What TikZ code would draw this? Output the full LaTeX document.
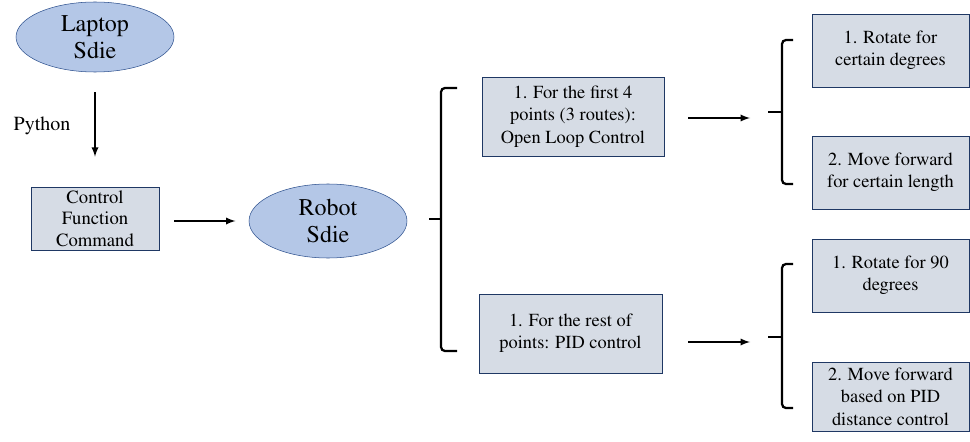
\documentclass[tikz,border=0pt]{standalone}
\usepackage[T1]{fontenc}
\usepackage{mathptmx}
\usetikzlibrary{shapes.geometric}
\usetikzlibrary{arrows}
\definecolor{side-fill}{HTML}{B4C7E7}
\definecolor{side-line}{HTML}{2F528F}
\definecolor{step-fill}{HTML}{D6DCE5}
\definecolor{step-line}{HTML}{1F3864}
\tikzset{
  side/.style={ellipse, draw=side-line, fill=side-fill, align=center, inner sep=0pt,
    minimum width=118.5pt, font=\fontsize{18}{20.5}\selectfont},
  stepbox/.style={rectangle, draw=step-line, fill=step-fill, align=center, inner sep=0pt,
    font=\fontsize{13.8}{16.8}\selectfont},
  flow/.style={line width=1.4pt, latex-},
  brace/.style={line width=1.7pt, rounded corners=3pt},
}
\begin{document}
\begin{tikzpicture}[x=0.75pt, y=-0.75pt]
\useasboundingbox (0,0) rectangle (970,442);
\node[side, minimum height=52.5pt] at (95, 37) (laptop) {Laptop\\Sdie};
\node[font=\fontsize{15}{17}\selectfont] at (42, 126) (python) {Python};
\node[stepbox, minimum width=96pt, minimum height=47.25pt,
  font=\fontsize{14}{16}\selectfont] at (95, 218.5) (command) {Control\\Function\\Command}
  edge [flow, shorten <=22.5pt, shorten >=15pt] (laptop);
\node[side, minimum height=55.5pt] at (328, 221) (robot) {Robot\\Sdie}
  edge [flow, shorten <=10pt, shorten >=11pt] (command.east |- 0,221);

% open loop branch
\node[stepbox, minimum width=136.5pt, minimum height=59.25pt] at (573, 116.5) (first points)
  {1. For the first 4\\points (3 routes):\\Open Loop Control};
\node[stepbox, minimum width=117.75pt, minimum height=54.75pt] at (890.5, 50.5) (rotate certain)
  {1. Rotate for\\certain degrees};
\node[stepbox, minimum width=117.75pt, minimum height=54.75pt] at (890.5, 172.5) (forward length)
  {2. Move forward\\for certain length};

% pid branch
\node[stepbox, minimum width=137.25pt, minimum height=59.25pt] at (570.5, 333.5) (rest points)
  {1. For the rest of\\points: PID control};
\node[stepbox, minimum width=117.75pt, minimum height=54.75pt] at (890.5, 275.5) (rotate ninety)
  {1. Rotate for 90\\degrees};
\node[stepbox, minimum width=117.75pt, minimum height=51.75pt] at (890.5, 396.5) (forward pid)
  {2. Move forward\\based on PID\\distance control};

\coordinate (top in) at (750, 118);
\coordinate (bottom in) at (750, 342);
\draw[flow, shorten >=18pt] (top in) -- (first points.east |- top in);
\draw[flow, shorten >=19.5pt] (bottom in) -- (rest points.east |- bottom in);

% braces
\draw[brace] (457, 88) -- (441, 88) -- (441, 351) -- (457, 351);
\draw[line width=1.7pt] (441, 219) -- (429, 219);
\draw[brace] (793, 40) -- (782, 40) -- (782, 184) -- (793, 184);
\draw[line width=1.7pt] (782, 112) -- (768, 112);
\draw[brace] (793, 264) -- (782, 264) -- (782, 408) -- (793, 408);
\draw[line width=1.7pt] (782, 337) -- (768, 337);
\end{tikzpicture}
\end{document}
